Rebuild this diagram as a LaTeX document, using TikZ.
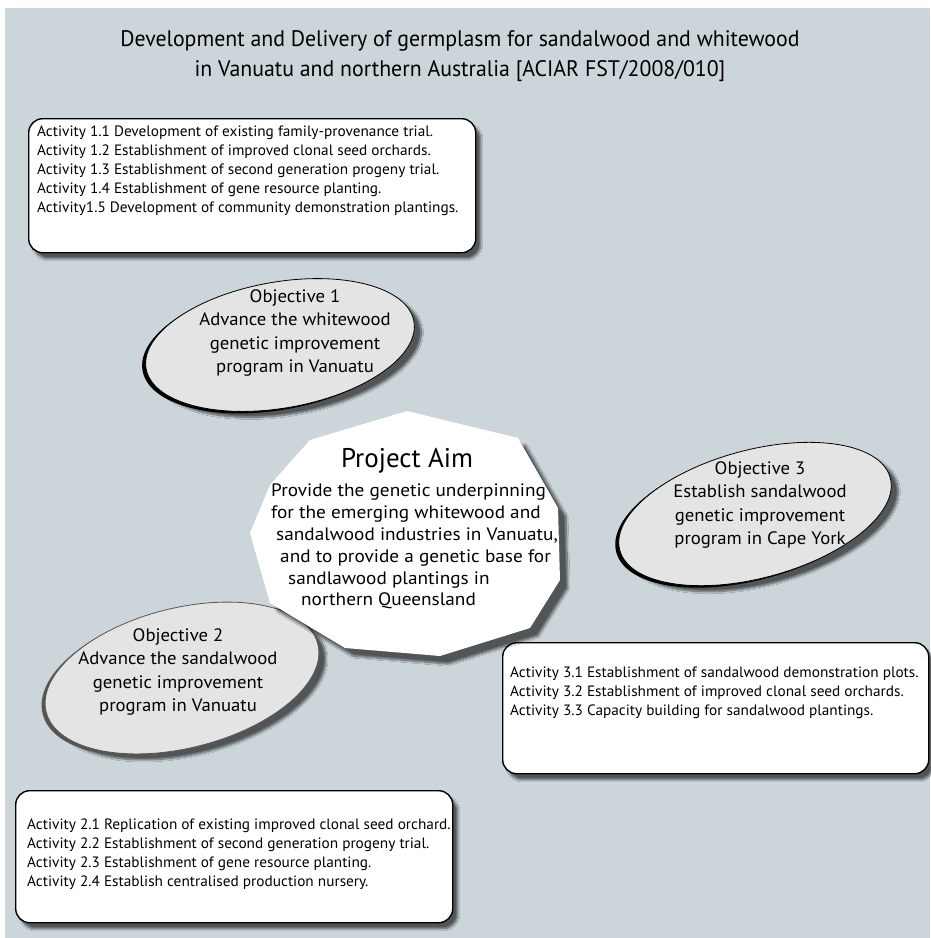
\documentclass[tikz,border=0pt]{standalone}
\usepackage{fontspec}
\setmainfont{PT Sans}
\newfontfamily\condfont[FakeStretch=0.97]{PT Sans}
\newfontfamily\actfont[FakeStretch=1.02]{PT Sans}
\newfontfamily\objfont[FakeStretch=1.04]{PT Sans}
\newfontfamily\aimfont[FakeStretch=1.07]{PT Sans}
\usetikzlibrary{shapes.geometric,shadows,shadows.blur}

\definecolor{bgblue}{RGB}{203,213,218}
\definecolor{ovalgray}{RGB}{228,228,228}
\definecolor{rimgray}{RGB}{85,85,85}

\tikzset{
  titletext/.style={align=center, inner sep=0pt,
    font=\condfont\fontsize{22.5}{30}\selectfont},
  actbox/.style={draw=black, line width=1.4pt, fill=white, rounded corners=14pt,
    anchor=north west, inner sep=0pt,
    blur shadow={shadow xshift=5pt, shadow yshift=-6pt,
      shadow blur steps=10, shadow opacity=60}},
  acttext/.style={anchor=north west, align=left, inner sep=0pt,
    font=\actfont\fontsize{15}{19}\selectfont},
  objective/.style={ellipse, fill=ovalgray, draw=#1, line width=0.8pt,
    inner sep=0pt,
    blur shadow={shadow xshift=7pt, shadow yshift=-6pt,
      shadow blur steps=10, shadow opacity=60},
    general shadow={shadow xshift=-3.5pt, shadow yshift=-2pt, fill=#1}},
  objtext/.style={align=center, inner sep=0pt,
    font=\objfont\fontsize{18}{23.5}\selectfont},
  aimshadow/.style={blur shadow={shadow xshift=8pt, shadow yshift=-8pt,
      shadow blur steps=12, shadow opacity=60}},
}

\begin{document}
\begin{tikzpicture}[x=1pt,y=-1pt]
  \useasboundingbox (0,0) rectangle (930,938);
  \fill[white] (0,0) rectangle (930,938);
  \fill[bgblue] (5,8) rectangle (930,938);

  % heading
  \node[titletext] (title) at (460,56)
    {Development and Delivery of germplasm for sandalwood and whitewood\\
     in Vanuatu and northern Australia [ACIAR FST/2008/010]};

  % objective 1 and its activities
  \node[actbox, minimum width=447pt, minimum height=134pt] (act1) at (28,118) {};
  \node[acttext] (act1txt) at (37,126)
    {Activity 1.1 Development of existing family-provenance trial.\\
     Activity 1.2 Establishment of improved clonal seed orchards.\\
     Activity 1.3 Establishment of second generation progeny trial.\\
     Activity 1.4 Establishment of gene resource planting.\\
     Activity1.5 Development of community demonstration plantings.};
  \node[objective=black, rotate=10, minimum width=272pt, minimum height=126pt]
    (obj1) at (280,345) {};
  \node[objtext] (obj1txt) at (295,333)
    {Objective 1\\ Advance the whitewood\\ genetic improvement\\ program in Vanuatu};

  % objective 3 and its activities
  \node[objective=black, rotate=15, minimum width=280pt, minimum height=128pt]
    (obj3) at (755,514) {};
  \node[objtext] (obj3txt) at (760,505)
    {Objective 3\\ Establish sandalwood\\ genetic improvement\\ program in Cape York};
  \node[actbox, minimum width=426pt, minimum height=131pt] (act3) at (502,642) {};
  \node[acttext] (act3txt) at (510,667)
    {Activity 3.1 Establishment of sandalwood demonstration plots.\\
     Activity 3.2 Establishment of improved clonal seed orchards.\\
     Activity 3.3 Capacity building for sandalwood plantings.};

  % objective 2 and its activities
  \node[objective=rimgray, rotate=14, minimum width=280pt, minimum height=140pt]
    (obj2) at (182,678) {};
  \node[objtext] (obj2txt) at (178,672)
    {Objective 2\\ Advance the sandalwood\\ genetic improvement\\ program in Vanuatu};
  \node[actbox, minimum width=437pt, minimum height=132pt] (act2) at (15,790) {};
  \node[acttext] (act2txt) at (27,819)
    {Activity 2.1 Replication of existing improved clonal seed orchard.\\
     Activity 2.2 Establishment of second generation progeny trial.\\
     Activity 2.3 Establishment of gene resource planting.\\
     Activity 2.4 Establish centralised production nursery.};

  % project aim
  \fill[white, aimshadow] (407,411) -- (518,438) -- (558,508) -- (560,580)
    -- (530,628) -- (440,656) -- (345,648) -- (270,603) -- (250,533)
    -- (270,485) -- (310,440) -- cycle;
  \node[inner sep=0pt, font=\fontsize{27}{30}\selectfont] (aimtitle) at (407,461)
    {Project Aim};
  \node[acttext, font=\aimfont\fontsize{18}{21.8}\selectfont] (aimtxt) at (271,484)
    {Provide the genetic underpinning\\
     for the emerging whitewood and\\
     \hspace*{5pt}sandalwood industries in Vanuatu,\\
     \hspace*{9pt}and to provide a genetic base for\\
     \hspace*{17pt}sandlawood plantings in\\
     \hspace*{30pt}northern Queensland};
\end{tikzpicture}
\end{document}
